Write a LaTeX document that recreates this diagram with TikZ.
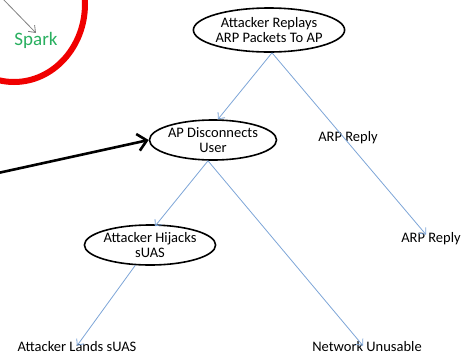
\documentclass[tikz,border=0pt]{standalone}
\usepackage{fontspec}
\setmainfont{Carlito}
\usetikzlibrary{shapes.geometric,arrows.meta}
\definecolor{linkblue}{RGB}{125,165,215}
\definecolor{sparkgreen}{RGB}{40,175,95}
\definecolor{ringred}{RGB}{240,0,0}
\tikzset{
  event/.style={ellipse, draw=black, line width=1.6pt, inner sep=0pt,
    align=center, font=\fontsize{14.5}{14.3}\selectfont},
  outcome/.style={inner sep=0pt, font=\fontsize{14.5}{14.3}\selectfont},
  link/.style={draw=linkblue, line width=0.8pt,
    -{Straight Barb[length=5pt,width=9pt,line width=0.8pt]}},
}
\begin{document}
\begin{tikzpicture}[x=1pt,y=-1pt]
  \useasboundingbox (0,0) rectangle (471,357);
  \begin{scope}
    \clip (0,0) rectangle (471,357);
    % red ring around the spark label
    \draw[ringred, line width=6pt] (14,4) ellipse [x radius=71, y radius=78];
    % grey pointer into the spark label
    \coordinate (ptrstart) at (2,-2);
    \node[text=sparkgreen, font=\fontsize{19}{20}\selectfont, inner sep=0pt] (spark) at (36,40) {Spark};
    \draw[gray, line width=0.8pt, -{Straight Barb[length=6pt,width=9pt,line width=0.8pt]}]
      (ptrstart) -- (36,33);
    % black pointer into the disconnect event
    \coordinate (blkstart) at (-2,173);
  \end{scope}

  \node[event, minimum width=136pt, minimum height=44pt] (replay) at (269,30)
    {Attacker Replays\\ARP Packets To AP};
  \node[event, minimum width=113pt, minimum height=40pt] (disc) at (213,140)
    {AP Disconnects\\User};
  \node[event, minimum width=110pt, minimum height=40pt] (hijack) at (150,245)
    {Attacker Hijacks\\sUAS};

  \node[outcome] (arp1) at (348,138) {ARP Reply};
  \node[outcome] (arp2) at (431,239) {ARP Reply};
  \node[outcome] (lands) at (77,347) {Attacker Lands sUAS};
  \node[outcome] (unusable) at (367,347) {Network Unusable};

  \draw[link] ([xshift=3pt]replay.south) -- ([xshift=5pt]disc.north);
  \draw[link] ([xshift=3pt]replay.south) -- ([xshift=-5pt,yshift=-2pt]arp2.north);
  \draw[link] ([xshift=-5pt]disc.south) -- ([xshift=5pt,yshift=-2pt]hijack.north);
  \draw[link] ([xshift=-5pt]disc.south) -- ([xshift=-4pt,yshift=-4pt]unusable.north);
  \draw[link] (hijack) -- ([yshift=-4pt]lands.north);

  \draw[black, line width=2.6pt, -{Straight Barb[length=9pt,width=17pt,line width=2.6pt]}]
    (blkstart) -- (disc.west);
\end{tikzpicture}
\end{document}
